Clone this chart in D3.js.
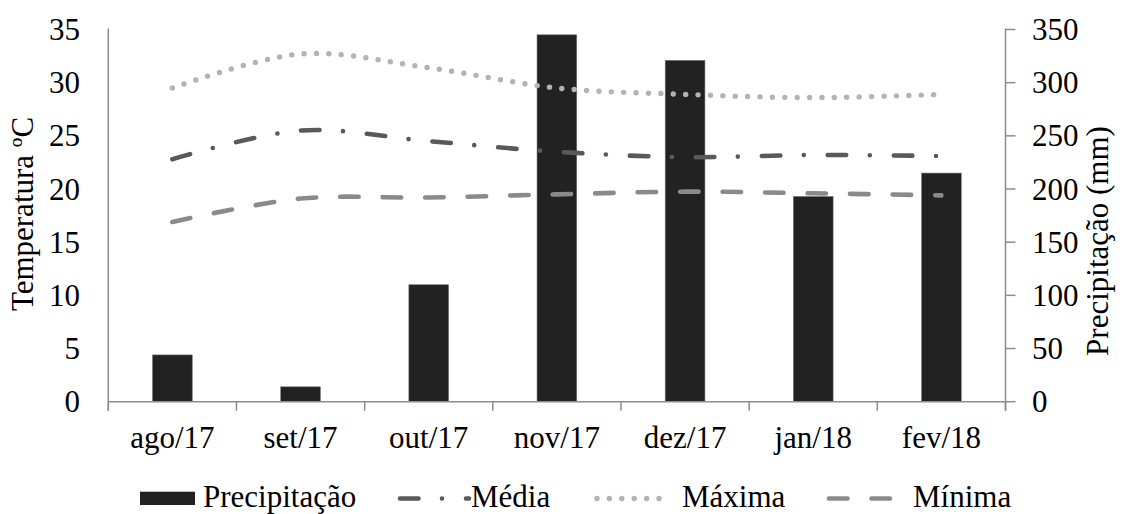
<!DOCTYPE html>
<html>
<head>
<meta charset="utf-8">
<script src="https://cdn.jsdelivr.net/npm/d3@7"></script>
<style>
  html, body { margin: 0; padding: 0; background: #fff; }
  svg { display: block; }
</style>
</head>
<body>
<svg id="chart" width="1126" height="514"></svg>
<script>
// Monthly climate data, Aug/2017 – Feb/2018
const months = ["ago/17", "set/17", "out/17", "nov/17", "dez/17", "jan/18", "fev/18"];
const precipitacao = [44, 14, 110, 345, 321, 193, 215];          // mm
const tempMedia = [22.8, 25.5, 24.5, 23.5, 23.0, 23.2, 23.1];      // °C
const tempMaxima = [29.5, 32.7, 31.4, 29.5, 28.9, 28.6, 28.9];     // °C
const tempMinima = [16.9, 19.1, 19.2, 19.5, 19.75, 19.6, 19.4];    // °C
const tempTicks = [0, 5, 10, 15, 20, 25, 30, 35];
const precTicks = [0, 50, 100, 150, 200, 250, 300, 350];

const FAMILY = "'Liberation Serif', 'Times New Roman', Tinos, Times, 'DejaVu Serif', serif";
const FONT = 31;

const svg = d3.select("#chart")
  .style("font-family", FAMILY);
const plot = { left: 108.3, right: 1005.5, top: 29.5, bottom: 401.7 };

const x = d3.scaleBand().domain(months).range([plot.left, plot.right]).padding(0);
const yT = d3.scaleLinear().domain([0, 35]).range([plot.bottom, plot.top]);
const yP = d3.scaleLinear().domain([0, 350]).range([plot.bottom, plot.top]);
const cx = m => x(m) + x.bandwidth() / 2;

const axisColor = "#8c8c8c";

function label(sel) {
  return sel.attr("font-family", FAMILY).attr("font-size", FONT).attr("fill", "#000");
}

// Precipitation bars (right axis)
const barW = x.bandwidth() * 0.31;
svg.append("g").selectAll("rect")
  .data(months)
  .join("rect")
  .attr("x", (m) => cx(m) - barW / 2)
  .attr("width", barW)
  .attr("y", (m, i) => yP(precipitacao[i]))
  .attr("height", (m, i) => plot.bottom - yP(precipitacao[i]))
  .attr("fill", "#222222")
  .attr("stroke", "#777777")
  .attr("stroke-width", 0.6);

// Temperature series
const series = [
  { name: "Média", values: tempMedia, color: "#595959", width: 4.6, dash: "18.5,23.5,0,24" },
  { name: "Máxima", values: tempMaxima, color: "#b3b3b3", width: 5.4, dash: "0,12.4" },
  { name: "Mínima", values: tempMinima, color: "#8a8a8a", width: 4.6, dash: "18.5,24" }
];

const line = d3.line()
  .x(d => cx(d.m))
  .y(d => yT(d.v))
  .curve(d3.curveCatmullRom.alpha(0.5));

svg.append("g").selectAll("path")
  .data(series)
  .join("path")
  .attr("d", s => line(months.map((m, i) => ({ m, v: s.values[i] }))))
  .attr("fill", "none")
  .attr("stroke", s => s.color)
  .attr("stroke-width", s => s.width)
  .attr("stroke-linecap", "round")
  .attr("stroke-dasharray", s => s.dash);

// Bottom axis: category boundary ticks
const xAxis = svg.append("g");
xAxis.append("line")
  .attr("x1", plot.left).attr("x2", plot.right)
  .attr("y1", plot.bottom).attr("y2", plot.bottom)
  .attr("stroke", axisColor).attr("stroke-width", 1.5);
const bounds = months.map(m => x(m)).concat([plot.right]);
xAxis.selectAll("line.tick")
  .data(bounds)
  .join("line")
  .attr("class", "tick")
  .attr("x1", d => d).attr("x2", d => d)
  .attr("y1", plot.bottom).attr("y2", plot.bottom + 9)
  .attr("stroke", axisColor).attr("stroke-width", 1.5);
xAxis.selectAll("text")
  .data(months)
  .join("text")
  .call(label)
  .attr("x", cx)
  .attr("y", 448)
  .attr("text-anchor", "middle")
  .text(d => d);

// Left axis (temperature)
const yAxisL = svg.append("g");
yAxisL.append("line")
  .attr("x1", plot.left).attr("x2", plot.left)
  .attr("y1", plot.top - 1).attr("y2", plot.bottom + 9)
  .attr("stroke", axisColor).attr("stroke-width", 1.5);
yAxisL.selectAll("text")
  .data(tempTicks)
  .join("text")
  .call(label)
  .attr("x", 80)
  .attr("y", d => yT(d))
  .attr("dy", "0.34em")
  .attr("text-anchor", "end")
  .text(d => d);

// Right axis (precipitation)
const yAxisR = svg.append("g");
yAxisR.append("line")
  .attr("x1", plot.right).attr("x2", plot.right)
  .attr("y1", plot.top - 1).attr("y2", plot.bottom + 9)
  .attr("stroke", axisColor).attr("stroke-width", 1.5);
yAxisR.selectAll("line.tick")
  .data(precTicks)
  .join("line")
  .attr("class", "tick")
  .attr("x1", plot.right).attr("x2", plot.right + 10)
  .attr("y1", d => yP(d)).attr("y2", d => yP(d))
  .attr("stroke", axisColor).attr("stroke-width", 1.5);
yAxisR.selectAll("text")
  .data(precTicks)
  .join("text")
  .call(label)
  .attr("x", 1032)
  .attr("y", d => yP(d))
  .attr("dy", "0.34em")
  .attr("text-anchor", "start")
  .text(d => d);

// Axis titles
svg.append("text")
  .call(label)
  .attr("transform", "translate(33,214) rotate(-90)")
  .attr("text-anchor", "middle")
  .text("Temperatura ºC");
svg.append("text")
  .call(label)
  .attr("transform", "translate(1108,241) rotate(-90)")
  .attr("text-anchor", "middle")
  .text("Precipitação (mm)");

// Legend
const legend = svg.append("g");
const legY = 498.5;
const textBase = 507;
legend.append("rect")
  .attr("x", 140).attr("y", 491.7)
  .attr("width", 55).attr("height", 13.3)
  .attr("fill", "#222222");
legend.append("text")
  .call(label)
  .attr("x", 203).attr("y", textBase)
  .text("Precipitação");

const legItems = [
  { s: series[0], x1: 400, x2: 469, tx: 471 },
  { s: series[1], x1: 597, x2: 668, tx: 682 },
  { s: series[2], x1: 829, x2: 898, tx: 913 }
];
legItems.forEach(item => {
  legend.append("line")
    .attr("x1", item.x1).attr("x2", item.x2)
    .attr("y1", legY).attr("y2", legY)
    .attr("stroke", item.s.color)
    .attr("stroke-width", item.s.width)
    .attr("stroke-linecap", "round")
    .attr("stroke-dasharray", item.s.dash);
  legend.append("text")
    .call(label)
    .attr("x", item.tx).attr("y", textBase)
    .text(item.s.name);
});
</script>
</body>
</html>
